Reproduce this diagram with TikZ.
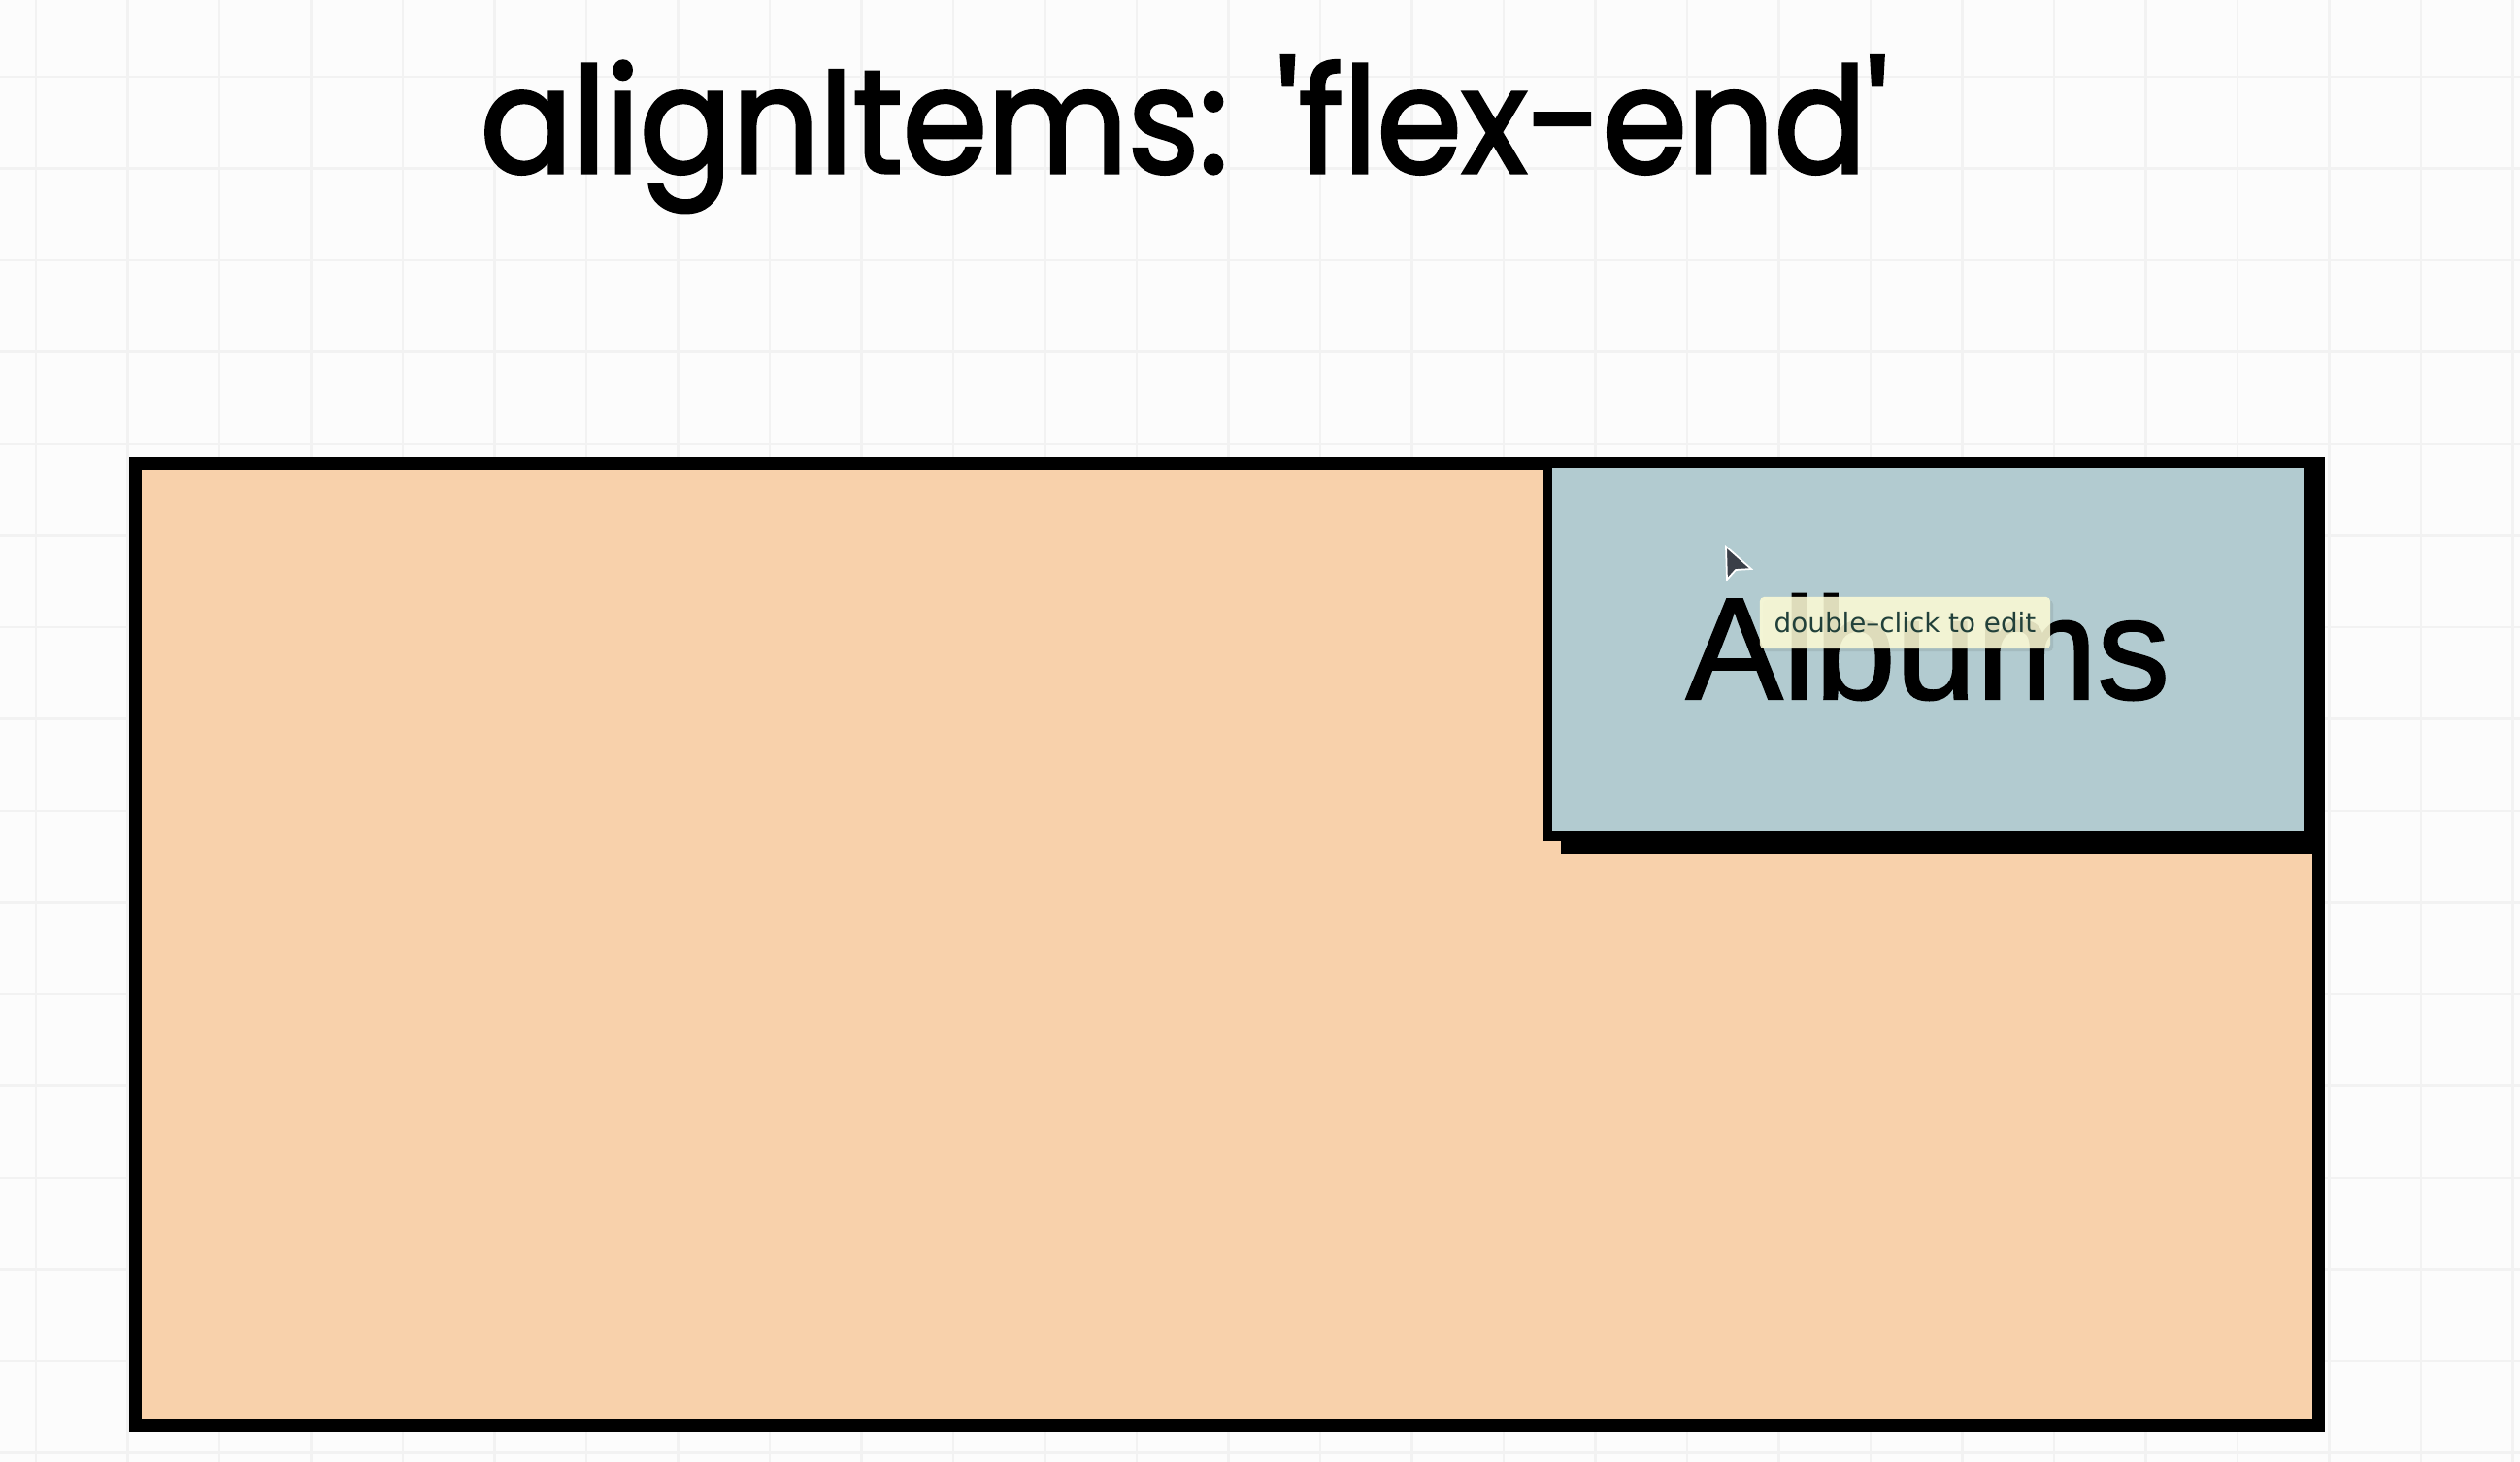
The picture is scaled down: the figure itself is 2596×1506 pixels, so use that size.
\documentclass[tikz,border=0pt]{standalone}
\usepackage{fontspec}
\newfontfamily\titlefont{Poppins}[FakeStretch=0.93,FakeBold=2.2]
\newfontfamily\boxfont{Liberation Sans}[FakeBold=1.4]
\newfontfamily\tipfont{DejaVu Sans}
\usetikzlibrary{positioning}
\definecolor{canvas}{HTML}{FCFCFC}
\definecolor{gridgray}{HTML}{F2F2F2}
\definecolor{peach}{HTML}{F8D1AB}
\definecolor{slateblue}{HTML}{B2CBD0}
\definecolor{tipyellow}{HTML}{FDFBD6}
\definecolor{tipink}{HTML}{21403A}
\definecolor{pointer}{HTML}{3A3F48}

\begin{document}
\begin{tikzpicture}[x=.01cm,y=-.01cm,line join=miter,line cap=butt,
  frame/.style={draw=black,line width=3.7pt,fill=peach},
  itembox/.style={draw=black,line width=2.6pt,fill=slateblue},
  heading/.style={anchor=base,inner sep=0pt,font=\titlefont\fontsize{43pt}{50pt}\selectfont},
  itemlabel/.style={anchor=base,inner sep=0pt,font=\boxfont\fontsize{42.5pt}{50pt}\selectfont},
  tooltip/.style={fill=tipyellow,fill opacity=.88,text opacity=1,text=tipink,rounded corners=1.2pt,
    minimum width=2.99cm,minimum height=.53cm,inner sep=0pt,font=\tipfont\fontsize{7.9pt}{9pt}\selectfont}]
  \fill[canvas] (0,0) rectangle (2596,1506);
  \useasboundingbox (0,0) rectangle (2596,1506);
  % faint canvas grid
  \foreach \k in {0,...,27}{
    \draw[gridgray,line width=.7pt] ({37+94.5*\k},0)--({37+94.5*\k},1506);
  }
  \foreach \k in {0,...,15}{
    \draw[gridgray,line width=.7pt] (0,{79+94.5*\k})--(2596,{79+94.5*\k});
  }
  \node[heading] (title) at (1220,178) {alignItems: 'flex-end'};
  % container and its single item
  \path[frame] (139.5,477.5) rectangle (2388.5,1468.5);
  \path[itembox] (1594.5,477) rectangle (2377.5,861);
  \draw[black,line width=5.1pt] (1608,871)--(2386,871);
  \node[itemlabel] (albums) at (1986,720) {Albums};
  % pointer and hint
  \filldraw[fill=pointer,draw=white,line width=.5pt] (1778,563)--(1779,597)--(1788,587)--(1804,586)--cycle;
  \fill[black,opacity=.08,rounded corners=1.2pt] (1816,618) rectangle (2115,671);
  \node[tooltip] (hint) at (1962.5,641.5) {double–click to edit};
\end{tikzpicture}
\end{document}
